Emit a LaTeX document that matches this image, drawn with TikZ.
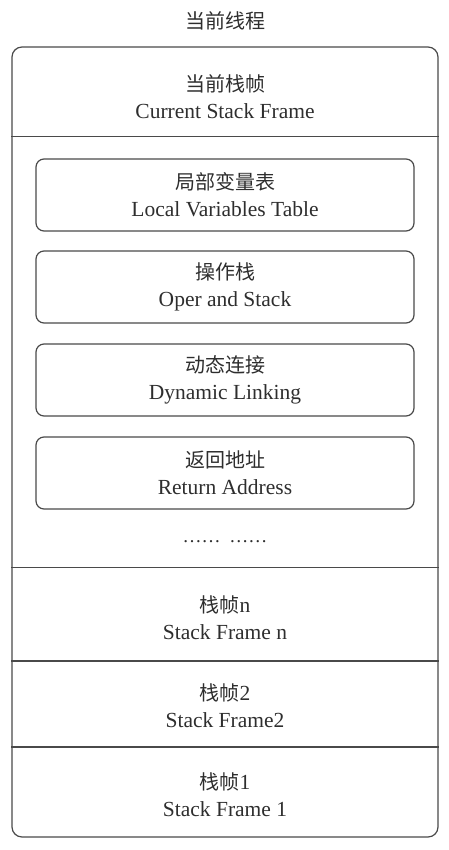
\documentclass[tikz,border=0pt]{standalone}
\usepackage{fontspec}
\setmainfont{Liberation Serif}
\newfontfamily\cjk{Noto Sans CJK SC}
\definecolor{ink}{HTML}{2E2E2E}
\definecolor{edge}{HTML}{4A4A4A}
\begin{document}
\begin{tikzpicture}[x=1pt,y=-1pt,
  lbl/.style={text=ink,align=center,font=\fontsize{21.5}{27}\selectfont,inner sep=0pt},
  frame/.style={draw=edge,line width=1.2pt},
  innerbox/.style={frame,rounded corners=8pt,minimum width=378pt,minimum height=72pt,inner sep=0pt}]
\useasboundingbox (0,0) rectangle (448,850);
\node[lbl] (title) at (225,21) {\cjk\fontsize{20}{27}\selectfont 当前线程};
\node[frame,rounded corners=10pt,minimum width=426pt,minimum height=790pt,inner sep=0pt] (outer) at (225,442) {};
\coordinate (d1) at (0,136.5);
\coordinate (d2) at (0,567.5);
\coordinate (d3) at (0,661);
\coordinate (d4) at (0,747);
\foreach \d in {d1,d2,d3,d4}
  \draw[frame] (outer.west |- \d) -- (outer.east |- \d);
\node[lbl] (cur) at (225,97) {{\cjk\fontsize{20}{27}\selectfont 当前栈帧}\\Current Stack Frame};
\node[innerbox] (b1) at (225,195) {};
\node[lbl] at (b1) {{\cjk\fontsize{20}{27}\selectfont 局部变量表}\\Local Variables Table};
\node[innerbox] (b2) at (225,287) {};
\node[lbl] at (b2) {{\cjk\fontsize{20}{27}\selectfont 操作栈}\\Oper and Stack};
\node[innerbox] (b3) at (225,380) {};
\node[lbl] at (b3) {{\cjk\fontsize{20}{27}\selectfont 动态连接}\\Dynamic Linking};
\node[innerbox] (b4) at (225,473) {};
\node[lbl] at (b4) {{\cjk\fontsize{20}{27}\selectfont 返回地址}\\Return Address};
\node[lbl,font=\fontsize{19}{20}\selectfont] (dots) at (225,542) {……\hspace{9pt}……};
\node[lbl] (fn) at (225,618) {{\cjk\fontsize{20}{27}\selectfont 栈帧}n\\Stack Frame n};
\node[lbl] (f2) at (225,706) {{\cjk\fontsize{20}{27}\selectfont 栈帧}2\\Stack Frame2};
\node[lbl] (f1) at (225,795) {{\cjk\fontsize{20}{27}\selectfont 栈帧}1\\Stack Frame 1};
\end{tikzpicture}
\end{document}
